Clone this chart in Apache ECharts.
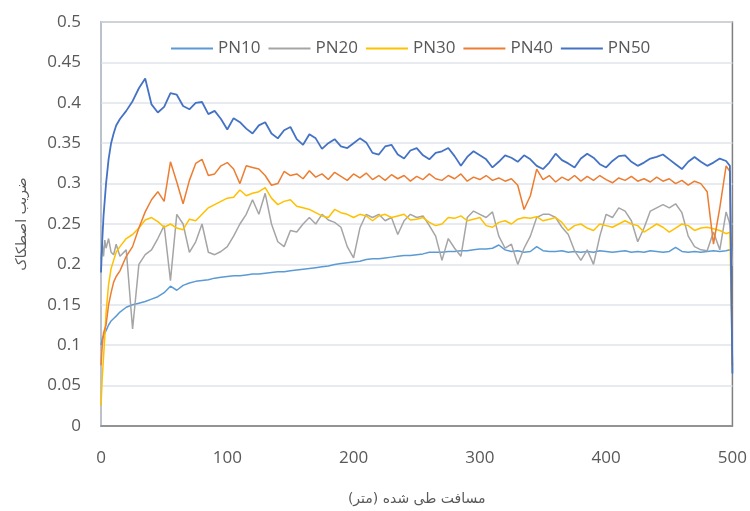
<!DOCTYPE html>
<html>
<head>
<meta charset="utf-8">
<script src="https://cdn.jsdelivr.net/npm/echarts@6/dist/echarts.min.js"></script>
<style>html,body{margin:0;padding:0;background:#fff;}#c{width:750px;height:511px;}</style>
</head>
<body>
<div id="c"></div>
<script>
const distance = [
  0,1,2,3,4,6,8,10,12,15,
  20,25,30,35,40,45,50,55,60,65,
  70,75,80,85,90,95,100,105,110,115,
  120,125,130,135,140,145,150,155,160,165,
  170,175,180,185,190,195,200,205,210,215,
  220,225,230,235,240,245,250,255,260,265,
  270,275,280,285,290,295,300,305,310,315,
  320,325,330,335,340,345,350,355,360,365,
  370,375,380,385,390,395,400,405,410,415,
  420,425,430,435,440,445,450,455,460,465,
  470,475,480,485,490,495,498,500
];
const seriesNames = ['PN10','PN20','PN30','PN40','PN50'];
const pn10 = [
  0.1,0.108,0.112,0.115,0.118,0.125,0.13,0.133,0.136,0.141,
  0.147,0.15,0.152,0.154,0.157,0.16,0.165,0.173,0.168,0.174,
  0.177,0.179,0.18,0.181,0.183,0.184,0.185,0.186,0.186,0.187,
  0.188,0.188,0.189,0.19,0.191,0.191,0.192,0.193,0.194,0.195,
  0.196,0.197,0.198,0.2,0.201,0.202,0.203,0.204,0.206,0.207,
  0.207,0.208,0.209,0.21,0.211,0.211,0.212,0.213,0.215,0.215,
  0.215,0.216,0.216,0.217,0.217,0.218,0.219,0.219,0.22,0.224,
  0.218,0.216,0.217,0.215,0.216,0.222,0.217,0.216,0.216,0.217,
  0.215,0.216,0.215,0.216,0.215,0.217,0.216,0.215,0.216,0.217,
  0.215,0.216,0.215,0.217,0.216,0.215,0.216,0.221,0.216,0.215,
  0.216,0.215,0.216,0.217,0.216,0.217,0.218,0.215
];
const pn20 = [
  0.205,0.225,0.21,0.23,0.22,0.232,0.215,0.212,0.225,0.21,
  0.218,0.12,0.2,0.212,0.218,0.232,0.248,0.18,0.262,0.25,
  0.215,0.228,0.25,0.215,0.212,0.216,0.222,0.235,0.25,0.262,
  0.28,0.262,0.288,0.25,0.228,0.222,0.242,0.24,0.25,0.258,
  0.25,0.262,0.255,0.252,0.246,0.222,0.208,0.245,0.262,0.258,
  0.262,0.254,0.258,0.237,0.254,0.262,0.258,0.26,0.248,0.235,
  0.205,0.232,0.22,0.21,0.258,0.266,0.262,0.258,0.265,0.235,
  0.22,0.225,0.2,0.22,0.235,0.258,0.262,0.262,0.258,0.246,
  0.237,0.217,0.205,0.218,0.2,0.235,0.262,0.258,0.27,0.266,
  0.254,0.228,0.245,0.266,0.27,0.274,0.27,0.275,0.264,0.235,
  0.222,0.218,0.217,0.24,0.218,0.265,0.25,0.2
];
const pn30 = [
  0.025,0.06,0.085,0.11,0.14,0.175,0.195,0.205,0.215,0.222,
  0.232,0.237,0.245,0.255,0.258,0.253,0.246,0.25,0.245,0.243,
  0.256,0.254,0.262,0.27,0.274,0.278,0.282,0.283,0.292,0.285,
  0.288,0.29,0.295,0.282,0.274,0.278,0.28,0.272,0.27,0.268,
  0.264,0.26,0.258,0.268,0.264,0.262,0.258,0.262,0.26,0.254,
  0.26,0.262,0.258,0.26,0.262,0.255,0.256,0.258,0.252,0.248,
  0.25,0.258,0.257,0.26,0.254,0.256,0.258,0.248,0.246,0.252,
  0.254,0.25,0.256,0.258,0.257,0.259,0.254,0.256,0.258,0.252,
  0.242,0.248,0.25,0.245,0.242,0.25,0.248,0.246,0.25,0.254,
  0.25,0.248,0.24,0.245,0.25,0.246,0.24,0.245,0.25,0.248,
  0.242,0.245,0.246,0.244,0.242,0.238,0.24,0.07
];
const pn40 = [
  0.075,0.1,0.115,0.12,0.125,0.15,0.165,0.178,0.185,0.192,
  0.21,0.222,0.245,0.265,0.28,0.29,0.278,0.327,0.302,0.275,
  0.304,0.325,0.33,0.31,0.312,0.322,0.326,0.318,0.3,0.322,
  0.32,0.318,0.31,0.298,0.3,0.315,0.31,0.312,0.306,0.316,
  0.308,0.312,0.305,0.314,0.309,0.304,0.312,0.307,0.313,0.305,
  0.31,0.304,0.311,0.306,0.31,0.303,0.309,0.305,0.312,0.306,
  0.304,0.31,0.306,0.312,0.303,0.308,0.305,0.31,0.304,0.307,
  0.303,0.306,0.298,0.268,0.285,0.318,0.305,0.31,0.302,0.308,
  0.304,0.31,0.303,0.309,0.304,0.31,0.305,0.301,0.307,0.304,
  0.309,0.303,0.306,0.302,0.308,0.303,0.306,0.3,0.304,0.298,
  0.303,0.3,0.29,0.225,0.27,0.322,0.315,0.075
];
const pn50 = [
  0.19,0.23,0.26,0.28,0.3,0.33,0.35,0.362,0.372,0.38,
  0.39,0.402,0.418,0.43,0.398,0.388,0.395,0.412,0.41,0.396,
  0.392,0.4,0.401,0.386,0.39,0.38,0.367,0.381,0.376,0.368,
  0.362,0.372,0.376,0.362,0.356,0.366,0.37,0.355,0.348,0.361,
  0.356,0.343,0.35,0.355,0.346,0.344,0.35,0.356,0.351,0.338,
  0.336,0.346,0.348,0.336,0.331,0.341,0.344,0.335,0.33,0.338,
  0.34,0.344,0.334,0.322,0.333,0.34,0.335,0.33,0.32,0.327,
  0.335,0.332,0.327,0.335,0.33,0.322,0.318,0.326,0.337,0.329,
  0.325,0.32,0.331,0.337,0.332,0.324,0.32,0.328,0.334,0.335,
  0.327,0.322,0.326,0.331,0.333,0.336,0.33,0.324,0.318,0.327,
  0.333,0.327,0.322,0.326,0.331,0.328,0.322,0.065
];
const values = [pn10, pn20, pn30, pn40, pn50];
const colors = ['#5B9BD5','#A5A5A5','#FFC000','#ED7D31','#4472C4'];
const widths = [1.5,1.5,1.5,1.5,1.8];

const chart = echarts.init(document.getElementById('c'), null, {renderer:'canvas'});
const labelColor = '#595959';
chart.setOption({
  animation: false,
  backgroundColor: '#fff',
  grid: {left:101, right:16, top:22, bottom:80, show:true, borderColor:'#7f7f7f', borderWidth:1.5},
  legend: {
    data: seriesNames, left: 166, top: 35, itemWidth: 42, itemHeight: 14, itemGap: 8,
    icon: 'path://M0,6 L42,6 L42,8 L0,8 Z',
    textStyle: {color: labelColor, fontSize: 17, fontFamily: 'Open Sans'}
  },
  xAxis: {
    type:'value', min:0, max:500, interval:100,
    axisLine:{show:true, lineStyle:{color:'#7f7f7f', width:1.5}},
    axisTick:{show:false}, splitLine:{show:false},
    axisLabel:{color:labelColor, fontSize:17, margin:24, fontFamily:'Open Sans'},
    name:'مسافت طی شده (متر)', nameLocation:'middle', nameGap:66,
    nameTextStyle:{color:labelColor, fontSize:14, fontFamily:'DejaVu Sans'}
  },
  yAxis: {
    type:'value', min:0, max:0.5, interval:0.05,
    axisLine:{show:true, lineStyle:{color:'#c5cedb', width:1.5}},
    axisTick:{show:false},
    splitLine:{show:true, lineStyle:{color:'#dfe4ea', width:1.5}},
    axisLabel:{color:labelColor, fontSize:17, margin:20, fontFamily:'Open Sans'},
    name:'ضریب اصطکاک', nameLocation:'middle', nameGap:72, nameRotate:90,
    nameTextStyle:{color:labelColor, fontSize:14, fontFamily:'DejaVu Sans'}
  },
  series: seriesNames.map((n, k) => ({
    name: n, type: 'line', symbol: 'none', smooth: false,
    lineStyle: {color: colors[k], width: widths[k]},
    itemStyle: {color: colors[k]},
    data: distance.map((d, i) => [d, values[k][i]])
  }))
});
</script>
</body>
</html>
